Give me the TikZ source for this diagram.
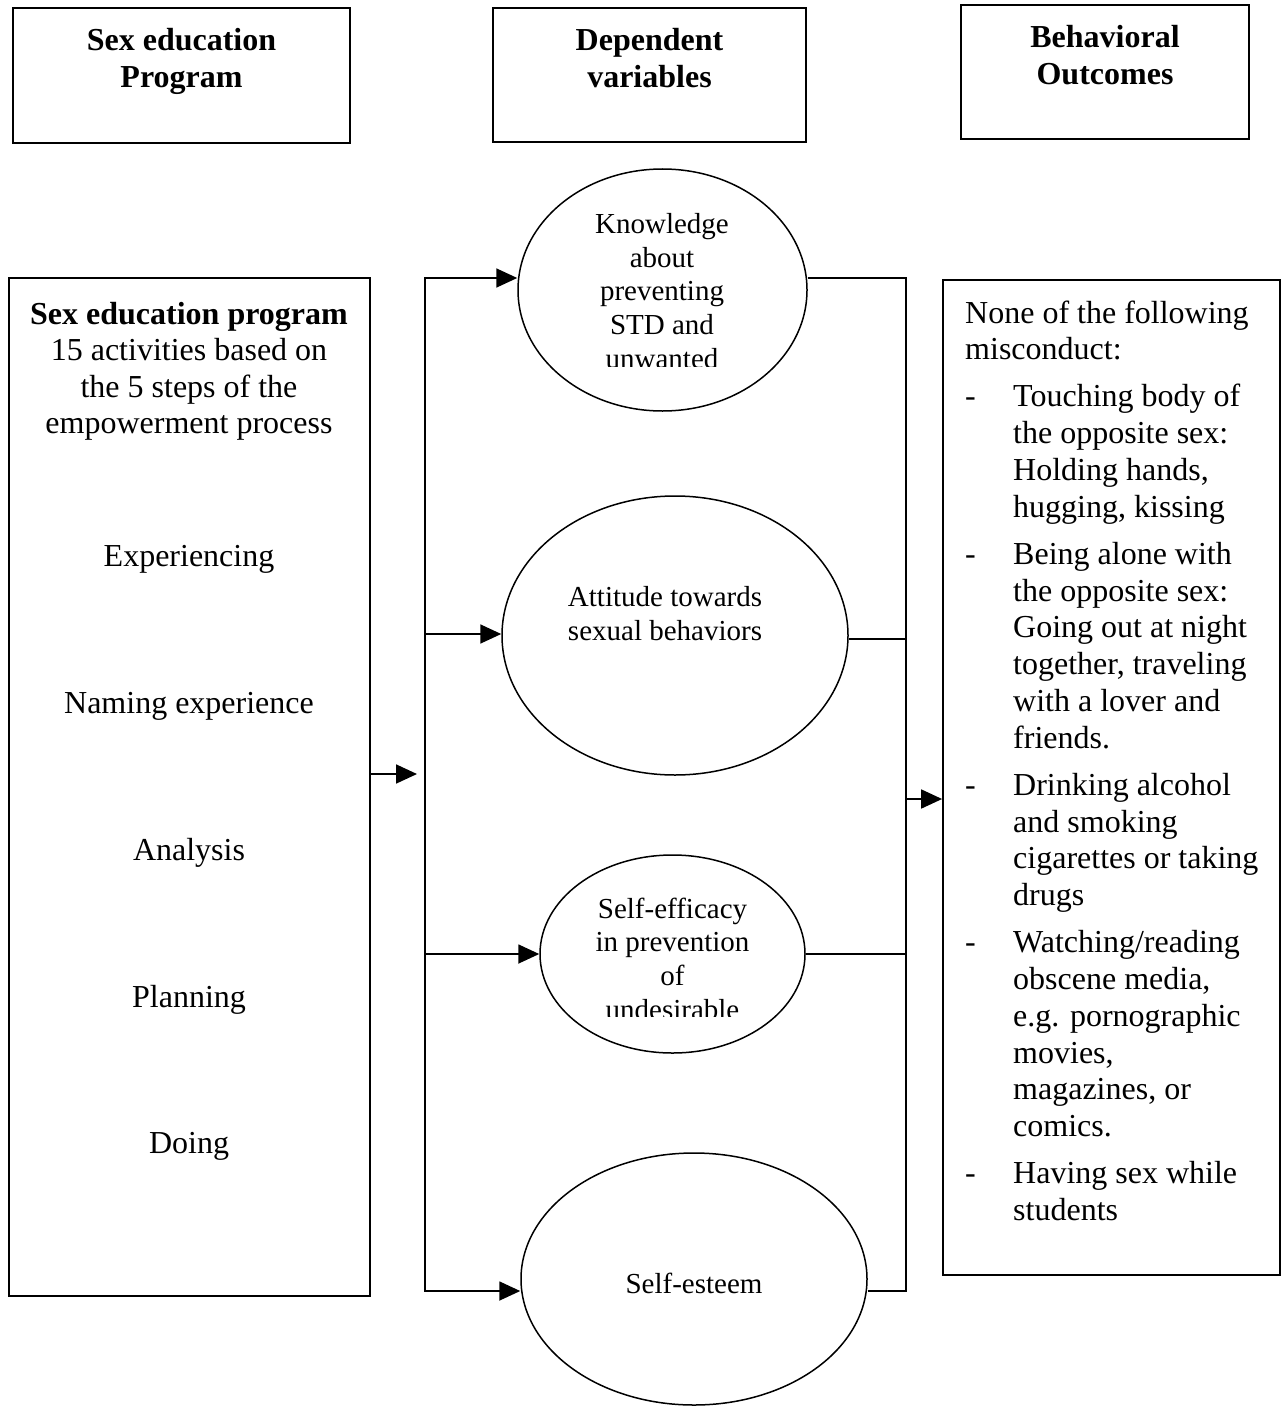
\documentclass[tikz,border=0pt]{standalone}
\usepackage{fontspec}
\setmainfont{Liberation Serif}
\usetikzlibrary{arrows.meta,shapes.geometric}
\newcommand\bodyfnt{\fontsize{32}{36.8}\selectfont}
\newcommand\ellfnt{\fontsize{29}{33.5}\selectfont}
\tikzset{
  box/.style={draw, rectangle, line width=1.8pt, inner sep=0pt},
  ell/.style={draw, ellipse, line width=1.5pt, inner sep=0pt},
  conn/.style={line width=1.8pt},
  arr/.style={conn, -{Triangle[length=21pt,width=19pt]}},
  tc/.style={inner sep=0pt, anchor=base, font=\bodyfnt, yshift=-2pt},
  hd/.style={inner sep=0pt, anchor=base, font=\bodyfnt\bfseries, yshift=-2pt},
  te/.style={inner sep=0pt, anchor=base, font=\ellfnt},
  tl/.style={inner sep=0pt, anchor=base west, font=\bodyfnt, yshift=-2pt}
}
\begin{document}
\begin{tikzpicture}[x=1pt,y=-1pt]
\useasboundingbox (0,0) rectangle (1285,1407);

% header boxes
\node[box, minimum width=337pt, minimum height=135pt] (h1) at (181.5,75.5) {};
\node[box, minimum width=313pt, minimum height=134pt] (h2) at (649.5,75) {};
\node[box, minimum width=288pt, minimum height=134pt] (h3) at (1105,72) {};
\node[hd] (h1a) at (181.5,49) {Sex education};
\node[hd] (h1b) at (181.5,86) {Program};
\node[hd] (h2a) at (649.5,49) {Dependent};
\node[hd] (h2b) at (649.5,86) {variables};
\node[hd] (h3a) at (1105,46) {Behavioral};
\node[hd] (h3b) at (1105,83) {Outcomes};

% left box
\node[box, minimum width=361pt, minimum height=1018pt] (lbox) at (189.5,787) {};
\node[hd] (l0) at (189,322) {Sex education program};
\node[tc] (l1) at (189,358) {15 activities based on};
\node[tc] (l2) at (189,395) {the 5 steps of the};
\node[tc] (l3) at (189,431) {empowerment process};
\node[tc] (l4) at (189,564) {Experiencing};
\node[tc] (l5) at (189,711) {Naming experience};
\node[tc] (l6) at (189,858) {Analysis};
\node[tc] (l7) at (189,1005) {Planning};
\node[tc] (l8) at (189,1151) {Doing};

% ellipses
\node[ell, minimum width=289pt, minimum height=242pt] (know) at (662.5,290) {};
\node[ell, minimum width=346pt, minimum height=279pt] (att) at (675,635.5) {};
\node[ell, minimum width=265pt, minimum height=198pt] (eff) at (672.5,954) {};
\node[ell, minimum width=346pt, minimum height=252pt] (est) at (694,1279) {};

\begin{scope}
\clip (500,150) rectangle (830,366);
\node[te] (k1) at (662,233) {Knowledge};
\node[te] (k2) at (662,267) {about};
\node[te] (k3) at (662,300) {preventing};
\node[te] (k4) at (662,334) {STD and};
\node[te] (k5) at (662,368) {unwanted};
\end{scope}
\node[te] (a1) at (665,606) {Attitude towards};
\node[te] (a2) at (665,640) {sexual behaviors};
\begin{scope}
\clip (520,850) rectangle (830,1016);
\node[te] (e1) at (672.5,918) {Self-efficacy};
\node[te] (e2) at (672.5,951) {in prevention};
\node[te] (e3) at (672.5,985) {of};
\node[te] (e4) at (672.5,1019) {undesirable};
\end{scope}
\node[te] (s1) at (694,1293) {Self-esteem};

% right box
\node[box, minimum width=337pt, minimum height=995pt] (rbox) at (1111.5,777.5) {};
\node[tl] (r0) at (965,321) {None of the following};
\node[tl] (r1) at (965,357.8) {misconduct:};
\foreach \n/\y in {d1/404.8, d2/562.2, d3/793.2, d4/950.6, d5/1181.6}
  \node[tl] (\n) at (965,\y) {-};
\foreach \n/\y/\s in {
  i1/404.8/{Touching body of},
  i2/441.6/{the opposite sex:},
  i3/478.4/{Holding hands,},
  i4/515.2/{hugging, kissing},
  i5/562.2/{Being alone with},
  i6/599/{the opposite sex:},
  i7/635.8/{Going out at night},
  i8/672.6/{together, traveling},
  i9/709.4/{with a lover and},
  i10/746.2/{friends.},
  i11/793.2/{Drinking alcohol},
  i12/830/{and smoking},
  i13/866.8/{cigarettes or taking},
  i14/903.6/{drugs},
  i15/950.6/{Watching/reading},
  i16/987.4/{obscene media,},
  i17/1024.2/{e.g. pornographic},
  i18/1061/{movies,},
  i19/1097.8/{magazines, or},
  i20/1134.6/{comics.},
  i21/1181.6/{Having sex while},
  i22/1218.4/{students}}
  \node[tl] (\n) at (1013,\y) {\s};

% connector coordinates
\coordinate (bL1) at (425,278);
\coordinate (bL2) at (425,1291);
\coordinate (aL2) at (425,634);
\coordinate (aL3) at (425,954);
\coordinate (bR1) at (906,278);
\coordinate (bR2) at (906,1291);
\coordinate (bRa) at (906,639);
\coordinate (bRe) at (906,954);
\coordinate (rA) at (906,799);
\coordinate (lA) at (370,774);
\coordinate (lAend) at (417,774);

% connectors
\draw[arr] (lbox.east |- lA) -- (lAend);
\draw[arr] (aL2) -- (bL1) -- (bL1 -| know.west);
\draw[arr] (aL2) -- (bL2) -- (bL2 -| est.west);
\draw[arr] (aL2) -- (aL2 -| att.west);
\draw[arr] (aL3) -- (aL3 -| eff.west);
\draw[conn] (bR1 -| know.east) -- (bR1) -- (bR2) -- (bR2 -| est.east);
\draw[conn] (bRa -| att.east) -- (bRa);
\draw[conn] (bRe -| eff.east) -- (bRe);
\draw[arr] (rA) -- (rA -| rbox.west);
\end{tikzpicture}
\end{document}
